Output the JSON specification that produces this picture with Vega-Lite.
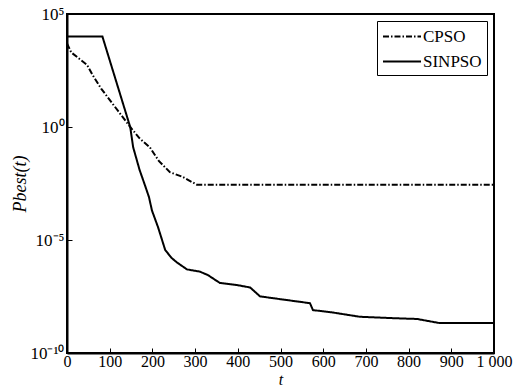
{
  "$schema": "https://vega.github.io/schema/vega-lite/v6.json",
  "width": 427,
  "height": 339,
  "autosize": "none",
  "padding": {"left": 67, "top": 14, "right": 32, "bottom": 36},
  "background": "white",
  "config": {
    "font": "Liberation Serif",
    "view": {"stroke": "black", "strokeWidth": 2},
    "axis": {"grid": false, "domainColor": "black", "domainWidth": 2, "tickColor": "black", "labelColor": "black", "titleColor": "black", "labelFont": "Liberation Serif", "titleFont": "Liberation Serif"}
  },
  "data": {
    "values": [
      {"t": 0, "p": 5012, "s": "CPSO"},
      {"t": 10, "p": 1995, "s": "CPSO"},
      {"t": 30, "p": 1000, "s": "CPSO"},
      {"t": 47, "p": 562, "s": "CPSO"},
      {"t": 60, "p": 200, "s": "CPSO"},
      {"t": 80, "p": 50, "s": "CPSO"},
      {"t": 100, "p": 15.8, "s": "CPSO"},
      {"t": 120, "p": 5, "s": "CPSO"},
      {"t": 148, "p": 1, "s": "CPSO"},
      {"t": 170, "p": 0.316, "s": "CPSO"},
      {"t": 194, "p": 0.126, "s": "CPSO"},
      {"t": 215, "p": 0.0316, "s": "CPSO"},
      {"t": 241, "p": 0.01, "s": "CPSO"},
      {"t": 270, "p": 0.0063, "s": "CPSO"},
      {"t": 304, "p": 0.0028, "s": "CPSO"},
      {"t": 1000, "p": 0.0028, "s": "CPSO"},
      {"t": 0, "p": 10000, "s": "SINPSO"},
      {"t": 83, "p": 10000, "s": "SINPSO"},
      {"t": 148, "p": 1, "s": "SINPSO"},
      {"t": 155, "p": 0.126, "s": "SINPSO"},
      {"t": 170, "p": 0.0126, "s": "SINPSO"},
      {"t": 183, "p": 0.0025, "s": "SINPSO"},
      {"t": 192, "p": 0.00079, "s": "SINPSO"},
      {"t": 199, "p": 0.0002, "s": "SINPSO"},
      {"t": 213, "p": 3.8e-5, "s": "SINPSO"},
      {"t": 230, "p": 3.6e-6, "s": "SINPSO"},
      {"t": 245, "p": 1.6e-6, "s": "SINPSO"},
      {"t": 258, "p": 1e-6, "s": "SINPSO"},
      {"t": 281, "p": 5e-7, "s": "SINPSO"},
      {"t": 311, "p": 4e-7, "s": "SINPSO"},
      {"t": 330, "p": 2.8e-7, "s": "SINPSO"},
      {"t": 358, "p": 1.26e-7, "s": "SINPSO"},
      {"t": 400, "p": 1e-7, "s": "SINPSO"},
      {"t": 429, "p": 7.9e-8, "s": "SINPSO"},
      {"t": 452, "p": 3.2e-8, "s": "SINPSO"},
      {"t": 515, "p": 2.2e-8, "s": "SINPSO"},
      {"t": 569, "p": 1.6e-8, "s": "SINPSO"},
      {"t": 576, "p": 7.9e-9, "s": "SINPSO"},
      {"t": 620, "p": 6.3e-9, "s": "SINPSO"},
      {"t": 686, "p": 4e-9, "s": "SINPSO"},
      {"t": 760, "p": 3.5e-9, "s": "SINPSO"},
      {"t": 820, "p": 3.2e-9, "s": "SINPSO"},
      {"t": 873, "p": 2.1e-9, "s": "SINPSO"},
      {"t": 1000, "p": 2.1e-9, "s": "SINPSO"}
    ]
  },
  "mark": {"type": "line", "color": "black", "strokeWidth": 2},
  "encoding": {
    "x": {
      "field": "t", "type": "quantitative",
      "scale": {"domain": [0, 1000], "nice": false},
      "axis": {"title": "t", "titleFontStyle": "italic", "titleFontWeight": "normal", "titleFontSize": 16, "titlePadding": 2,
        "values": [0, 100, 200, 300, 400, 500, 600, 700, 800, 900, 1000],
        "labelExpr": "datum.value == 1000 ? '1 000' : datum.label",
        "labelFontSize": 16, "tickSize": -5, "labelPadding": 5, "labelFlush": false, "labelOverlap": false}
    },
    "y": {
      "field": "p", "type": "quantitative",
      "scale": {"type": "log", "domain": [1e-10, 100000], "nice": false},
      "axis": {"title": "Pbest(t)", "titleFontStyle": "italic", "titleFontWeight": "normal", "titleFontSize": 18, "titlePadding": 0,
        "values": [1e-10, 1e-5, 1, 100000],
        "labelExpr": "datum.value < 1e-7 ? '10⁻¹⁰' : datum.value < 1e-2 ? '10⁻⁵' : datum.value < 10 ? '10⁰' : '10⁵'",
        "labelFontSize": 17, "tickSize": -5, "labelPadding": 8}
    },
    "strokeDash": {
      "field": "s", "type": "nominal",
      "scale": {"domain": ["CPSO", "SINPSO"], "range": [[6, 2, 1.5, 2], [1, 0]]},
      "legend": {"title": null, "orient": "top-right", "offset": 7, "strokeColor": "black", "fillColor": "white", "padding": 5,
        "symbolType": "M-3,0H1", "symbolSize": 361, "symbolOffset": 19, "symbolStrokeColor": "black", "symbolStrokeWidth": 2,
        "labelFontSize": 17, "labelColor": "black", "labelFont": "Liberation Serif", "rowPadding": 6, "labelOffset": 1}
    }
  }
}
